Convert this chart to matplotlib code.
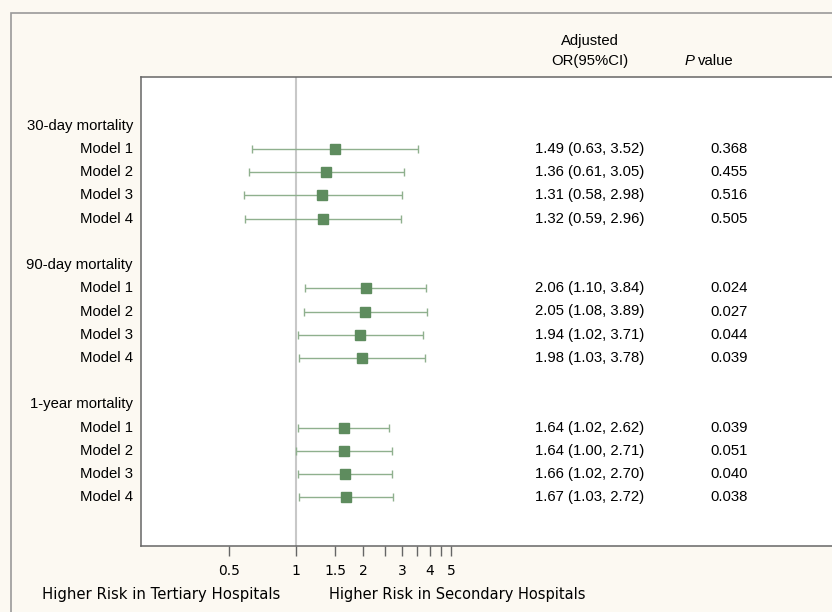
import matplotlib.pyplot as plt
import matplotlib.transforms as mtransforms
from matplotlib.patches import Rectangle

# forest plot data
groups = ['30-day mortality', '90-day mortality', '1-year mortality']
models = ['Model 1', 'Model 2', 'Model 3', 'Model 4']
odds = [[1.49, 1.36, 1.31, 1.32],
        [2.06, 2.05, 1.94, 1.98],
        [1.64, 1.64, 1.66, 1.67]]
lower = [[0.63, 0.61, 0.58, 0.59],
         [1.10, 1.08, 1.02, 1.03],
         [1.02, 1.00, 1.02, 1.03]]
upper = [[3.52, 3.05, 2.98, 2.96],
         [3.84, 3.89, 3.71, 3.78],
         [2.62, 2.71, 2.70, 2.72]]
pvals = [['0.368', '0.455', '0.516', '0.505'],
         ['0.024', '0.027', '0.044', '0.039'],
         ['0.039', '0.051', '0.040', '0.038']]

tick_vals = [0.5, 1, 1.5, 2, 2.5, 3, 3.5, 4, 4.5, 5]
tick_labels = ['0.5', '1', '1.5', '2', '', '3', '', '4', '', '5']

cream = '#fcf9f2'
sq_col = '#5e8c5e'
ci_col = '#8fb08e'
row_font = 'Liberation Sans'
fs = 10.7

W, H = 832, 612
fig = plt.figure(figsize=(W / 100, H / 100), dpi=100, facecolor=cream)

# outer frame
fig.patches.append(Rectangle((11 / W, -0.1), 1.2, (H - 13) / H + 0.1,
                             transform=fig.transFigure, fill=False,
                             edgecolor='#9a9a9a', linewidth=1.2))

ax = fig.add_axes([141 / W, (H - 546) / H, (870 - 141) / W, (546 - 77) / H])
ax.set_facecolor('white')
ax.set_xscale('log')
x_left = 0.2
x_right = 1 * 2.718281828 ** ((870 - 296) / 96.5)
ax.set_xlim(x_left, x_right)
ax.set_ylim(18.1, -2.1)

for s in ax.spines.values():
    s.set_color('#666666')
    s.set_linewidth(1.1)

ax.axvline(1, color='#c8c8c8', linewidth=1.5, zorder=1)

trans = mtransforms.blended_transform_factory(fig.transFigure, ax.transData)

row = 0
for g in range(len(groups)):
    fig.text(133 / W, row, groups[g], transform=trans, ha='right', va='center',
             fontsize=fs, family=row_font)
    row += 1
    for m in range(len(models)):
        ax.errorbar(odds[g][m], row,
                    xerr=[[odds[g][m] - lower[g][m]], [upper[g][m] - odds[g][m]]],
                    fmt='none', ecolor=ci_col, elinewidth=1.0, capsize=2.7,
                    capthick=1.0, zorder=2)
        ax.plot(odds[g][m], row, marker='s', markersize=7, color=sq_col,
                markeredgecolor=sq_col, zorder=3)
        fig.text(133 / W, row, models[m], transform=trans, ha='right',
                 va='center', fontsize=fs, family=row_font)
        or_text = '%.2f (%.2f, %.2f)' % (odds[g][m], lower[g][m], upper[g][m])
        fig.text(590 / W, row, or_text, transform=trans, ha='center',
                 va='center', fontsize=fs, family=row_font)
        fig.text(729 / W, row, pvals[g][m], transform=trans, ha='center',
                 va='center', fontsize=fs, family=row_font)
        row += 1
    row += 1

ax.set_yticks([])
ax.set_xticks(tick_vals)
ax.set_xticklabels(tick_labels)
ax.xaxis.set_minor_locator(plt.NullLocator())
ax.tick_params(axis='x', direction='out', length=7, width=1, color='#666666',
               labelsize=10, pad=6)

# column headers
fig.text(590 / W, 1 - 41 / H, 'Adjusted', ha='center', va='center',
         fontsize=fs, family=row_font)
fig.text(590 / W, 1 - 61 / H, 'OR(95%CI)', ha='center', va='center',
         fontsize=fs, family=row_font)
fig.text(685 / W, 1 - 61 / H, 'P', ha='left', va='center',
         fontsize=fs, family=row_font, style='italic')
fig.text(698 / W, 1 - 61 / H, 'value', ha='left', va='center',
         fontsize=fs, family=row_font)

# direction labels
fig.text(161 / W, 1 - 595 / H, 'Higher Risk in Tertiary Hospitals',
         ha='center', va='center', fontsize=10.7, color='black')
fig.text(457 / W, 1 - 595 / H, 'Higher Risk in Secondary Hospitals',
         ha='center', va='center', fontsize=10.5, color='black')

fig.savefig('out.png', dpi=100, facecolor=cream)
